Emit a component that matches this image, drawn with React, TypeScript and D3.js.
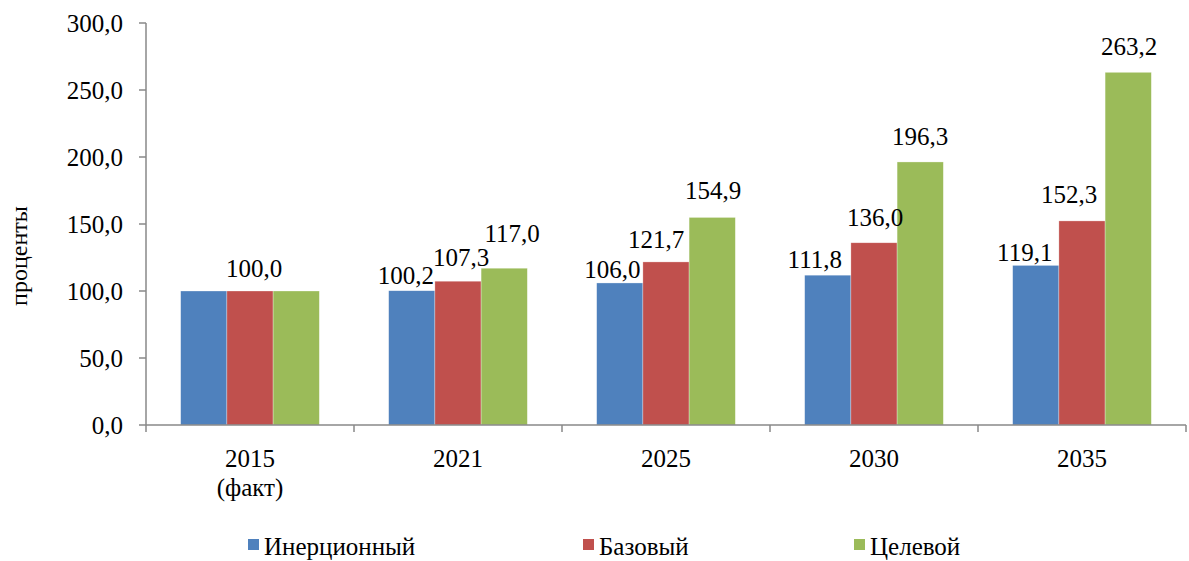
import React from "react";
import * as d3 from "d3";

const categories = ["2015|(факт)", "2021", "2025", "2030", "2035"];
const seriesNames = ["Инерционный", "Базовый", "Целевой"];
const inertial = [100.0, 100.2, 106.0, 111.8, 119.1];
const base = [100.0, 107.3, 121.7, 136.0, 152.3];
const target = [100.0, 117.0, 154.9, 196.3, 263.2];
const yTicks = [0, 50, 100, 150, 200, 250, 300];
// which data labels are displayed (2015: only the middle one)
const showLabels = [
  [false, true, true, true, true],
  [true, true, true, true, true],
  [false, true, true, true, true],
];

// layout (label nudges: [dx, gap above bar top])
const labelNudge = [
  [[0, 0], [-6, 7], [-7.5, 5], [-13, 7], [-11, 4.5]],
  [[4, 14], [3, 15.5], [-10, 14], [1, 17], [-13, 17.5]],
  [[0, 0], [8, 26], [1, 18], [0, 17], [1, 17.5]],
];
const colors = ["#4F81BD", "#C0504D", "#9BBB59"];
const W = 1189;
const H = 561;
const left = 146;
const right = 1186;
const top = 23;
const bottom = 425;
const FONT = "Liberation Serif";
const axisColor = "#898989";
const fmt = (v: number) => v.toFixed(1).replace(".", ",");

export default function App() {
  const series = [inertial, base, target];
  const x = d3.scaleBand<string>().domain(categories).range([left, right]).padding(0);
  const bw = x.bandwidth() / 4.5;
  const y = d3.scaleLinear().domain([0, 300]).range([bottom, top]);
  const legendX = [248, 583, 854];
  const tp = { fontFamily: FONT, fill: "#000" } as const;

  return (
    <div style={{ fontFamily: "Liberation Serif, serif" }}>
      <style>{`svg text, svg tspan { font-family: "Liberation Serif", serif !important; }`}</style>
      <svg width={W} height={H} style={{ position: "absolute", left: 0, top: 0, background: "#fff" }}>
        {/* y axis */}
        <line x1={left} x2={left} y1={top} y2={bottom} stroke={axisColor} strokeWidth={1.5} />
        {yTicks.map((t) => (
          <g key={t}>
            <line x1={left - 7} x2={left} y1={y(t)} y2={y(t)} stroke={axisColor} strokeWidth={1.5} />
            <text x={123} y={y(t) + 9} textAnchor="end" fontSize={25} {...tp}>
              {fmt(t)}
            </text>
          </g>
        ))}
        {/* bars */}
        {series.map((s, si) =>
          s.map((v, ci) => {
            const x0 = (x(categories[ci]) as number) + bw * 0.75 + si * bw;
            return (
              <rect
                key={`${si}-${ci}`}
                x={x0}
                y={y(v)}
                width={bw}
                height={y(0) - y(v)}
                fill={colors[si]}
                stroke="#ffffff"
                strokeOpacity={0.5}
                strokeWidth={0.6}
              />
            );
          })
        )}
        {/* x axis */}
        <line x1={left} x2={right} y1={bottom} y2={bottom} stroke={axisColor} strokeWidth={1.5} />
        {categories.map((c) => (
          <line
            key={"t" + c}
            x1={x(c) as number}
            x2={x(c) as number}
            y1={bottom}
            y2={bottom + 7}
            stroke={axisColor}
            strokeWidth={1.5}
          />
        ))}
        <line x1={right} x2={right} y1={bottom} y2={bottom + 7} stroke={axisColor} strokeWidth={1.5} />
        {categories.map((c) => {
          const cx = (x(c) as number) + x.bandwidth() / 2;
          const lines = c.split("|");
          return (
            <text key={"l" + c} x={cx} y={bottom + 42} textAnchor="middle" fontSize={25} {...tp}>
              {lines.map((ln, i) => (
                <tspan key={i} x={cx} dy={i === 0 ? 0 : 29}>
                  {ln}
                </tspan>
              ))}
            </text>
          );
        })}
        {/* data labels */}
        {series.map((s, si) =>
          s.map((v, ci) => {
            if (!showLabels[si][ci]) return null;
            const cx = (x(categories[ci]) as number) + bw * 0.75 + si * bw + bw / 2;
            const [dx, gap] = labelNudge[si][ci];
            return (
              <text key={`lb${si}-${ci}`} x={cx + dx} y={y(v) - gap} textAnchor="middle" fontSize={25} {...tp}>
                {fmt(v)}
              </text>
            );
          })
        )}
        {/* y title */}
        <text transform={`translate(27,256) rotate(-90)`} textAnchor="middle" fontSize={24} {...tp}>
          проценты
        </text>
        {/* legend */}
        {seriesNames.map((n, i) => (
          <g key={n}>
            <rect x={legendX[i]} y={539} width={11} height={11} fill={colors[i]} />
            <text x={legendX[i] + 16} y={555} fontSize={25} {...tp}>
              {n}
            </text>
          </g>
        ))}
      </svg>
    </div>
  );
}
